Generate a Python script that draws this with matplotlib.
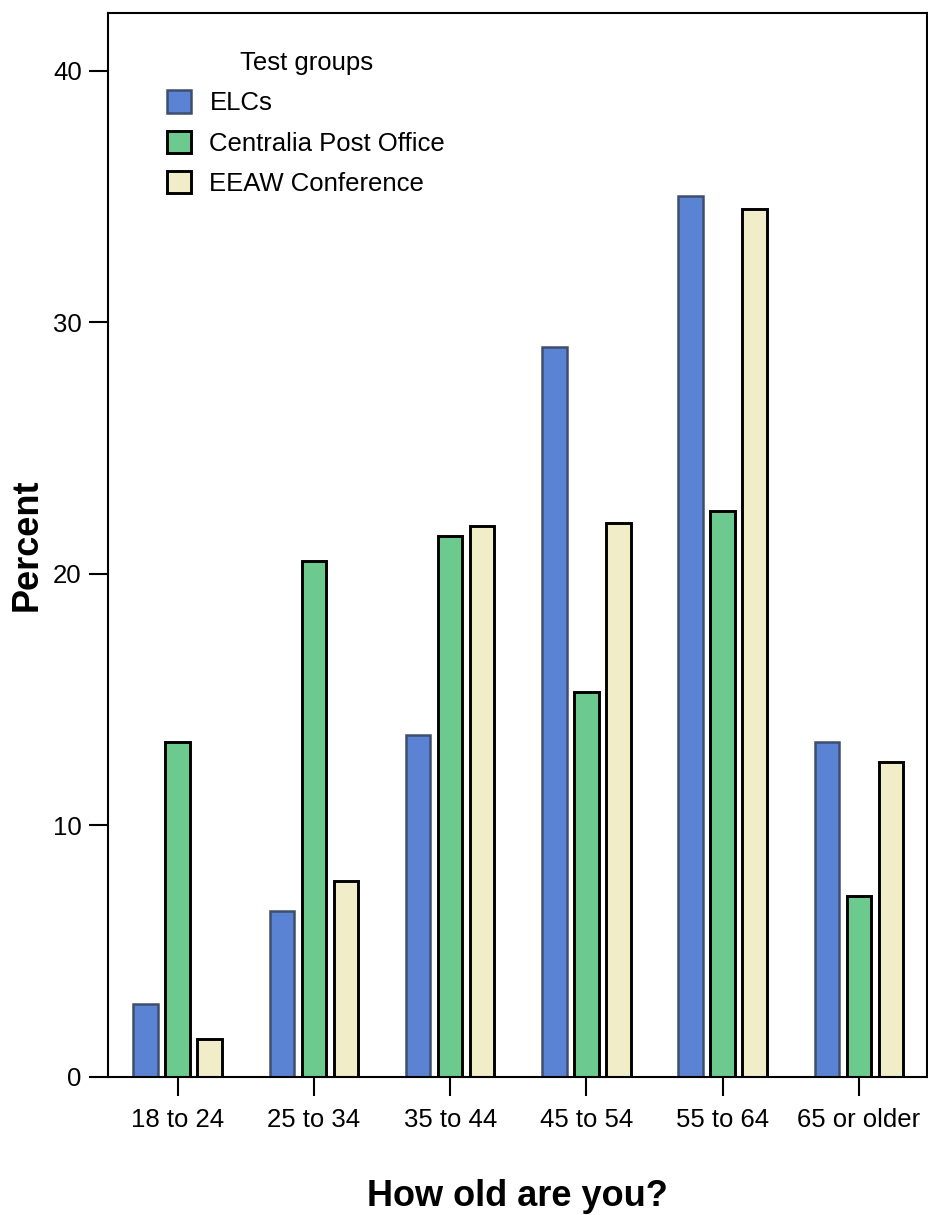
import numpy as np
import matplotlib
matplotlib.use("Agg")
import matplotlib.pyplot as plt

plt.rcParams["font.family"] = ["Liberation Sans", "DejaVu Sans"]

# age groups on the x axis
age_groups = ["18 to 24", "25 to 34", "35 to 44", "45 to 54", "55 to 64", "65 or older"]

# percent per test group
elcs = [2.9, 6.6, 13.6, 29.0, 35.0, 13.3]
centralia = [13.3, 20.5, 21.5, 15.3, 22.5, 7.2]
eeaw = [1.5, 7.8, 21.9, 22.0, 34.5, 12.5]

group_names = ["ELCs", "Centralia Post Office", "EEAW Conference"]
y_ticks = [0, 10, 20, 30, 40]

fig = plt.figure(figsize=(9.29, 12.15), dpi=100)
ax = fig.add_axes([0.1163, 0.1136, 0.8817, 0.8759])

x = np.arange(len(age_groups))
width = 0.18
step = 0.235

b1 = ax.bar(x - step, elcs, width, color="#5b83d3", edgecolor="#3f4d6e", linewidth=1.8)
b2 = ax.bar(x, centralia, width, color="#6dca8e", edgecolor="black", linewidth=2.1)
b3 = ax.bar(x + step, eeaw, width, color="#f1edc9", edgecolor="black", linewidth=2.1)

ax.set_xlim(-0.51, 5.5)
ax.set_ylim(0, 42.3)
ax.set_xticks(x)
ax.set_xticklabels(age_groups)
ax.set_yticks(y_ticks)

for s in ax.spines.values():
    s.set_linewidth(1.5)

ax.tick_params(axis="both", direction="out", length=14, width=1.5, labelsize=18.5)
ax.tick_params(axis="y", pad=5)
ax.tick_params(axis="x", pad=8)

ax.set_ylabel("Percent", fontsize=26, fontweight="bold")
ax.set_xlabel("How old are you?", fontsize=26, fontweight="bold")
ax.yaxis.set_label_coords(-0.078, 0.5)
ax.xaxis.set_label_coords(0.5, -0.096)

leg = ax.legend(
    [b1, b2, b3],
    group_names,
    title="Test groups",
    loc="upper left",
    bbox_to_anchor=(0.072, 0.964),
    frameon=False,
    fontsize=18.5,
    title_fontsize=18.5,
    handlelength=0.95,
    handleheight=0.95,
    handletextpad=0.7,
    labelspacing=0.6,
    borderpad=0,
    borderaxespad=0,
)

fig.savefig("out.png", dpi=100)
